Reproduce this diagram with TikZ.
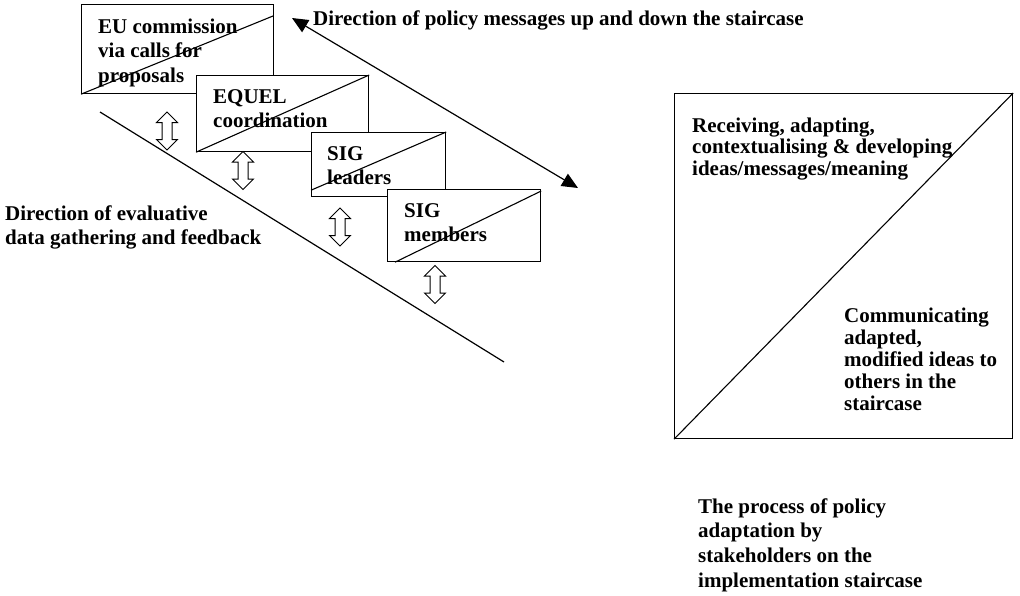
\documentclass[tikz,border=0pt]{standalone}
\usepackage{fontspec}
\setmainfont{Liberation Serif}
\usetikzlibrary{arrows.meta,shapes.arrows}
\newcommand{\mlines}[1]{\begin{tabular}[t]{@{}l@{}}#1\end{tabular}}
\begin{document}
\begin{tikzpicture}[x=1pt,y=-1pt,
  box/.style={draw, fill=white, line width=1.2pt, anchor=north west, inner sep=0pt},
  diag/.style={line width=1.1pt},
  txt/.style={font=\fontsize{21}{24.5}\selectfont\bfseries, anchor=base west, inner sep=0pt},
  txtb/.style={font=\fontsize{21}{21.5}\selectfont\bfseries, anchor=base west, inner sep=0pt},
  dbl/.style={double arrow, draw, fill=white, rotate=90, line width=1pt,
    minimum height=38pt, double arrow head extend=5.5pt, inner sep=4.5pt},
  conn/.style={line width=1.2pt}]
\useasboundingbox (0,0) rectangle (1020,595);
% staircase line
\coordinate (s1) at (100,112);
\coordinate (s2) at (504,362);
\draw[conn] (s1) -- (s2);
% box 1
\node[box, minimum width=192pt, minimum height=89pt] (b1) at (81,4) {};
\draw[diag] (b1.south west) -- (273,16);
\node[txt] (t1) at (98,33) {\mlines{EU commission\\via calls for\\proposals}};
% box 2
\node[box, minimum width=172pt, minimum height=76pt] (b2) at (196,75) {};
\draw[diag] (b2.south west) -- (b2.north east);
\node[txt] (t2) at (213,103) {\mlines{EQUEL\\coordination}};
% box 3
\node[box, minimum width=134pt, minimum height=64pt] (b3) at (311,132) {};
\draw[diag] ([yshift=7pt]b3.south west) -- (b3.north east);
\node[txt] (t3) at (327,160) {\mlines{SIG\\leaders}};
% box 4
\node[box, minimum width=153pt, minimum height=72pt] (b4) at (387,189) {};
\draw[diag] ([xshift=8pt]b4.south west) -- ([yshift=-2pt]b4.north east);
\node[txt] (t4) at (404,217) {\mlines{SIG\\members}};
% double arrows
\node[dbl] (a1) at (167,131) {};
\node[dbl] (a2) at (243,170.5) {};
\node[dbl] (a3) at (340,227) {};
\node[dbl] (a4) at (435,284.5) {};
% policy direction arrow
\coordinate (p1) at (292,18);
\coordinate (p2) at (578,188);
\draw[conn, {Triangle[length=16pt,width=14pt]}-{Triangle[length=16pt,width=14pt]}] (p1) -- (p2);
\node[txt] (tp) at (313,25) {Direction of policy messages up and down the staircase};
% evaluative
\node[txt] (te) at (5,220) {\mlines{Direction of evaluative\\data gathering and feedback}};
% big box
\node[box, minimum width=338pt, minimum height=345pt] (big) at (674,93) {};
\draw[diag] (big.south west) -- (big.north east);
\node[txtb] (r1) at (692,132) {\mlines{Receiving, adapting,\\contextualising \& developing\\ideas/messages/meaning}};
\node[font=\fontsize{21}{22}\selectfont\bfseries, anchor=base west, inner sep=0pt] (r2) at (844,322) {\mlines{Communicating\\adapted,\\modified ideas to\\others in the\\staircase}};
% caption
\node[font=\fontsize{21}{24.7}\selectfont\bfseries, anchor=base west, inner sep=0pt] (cap) at (698,513) {\mlines{The process of policy\\adaptation by\\stakeholders on the\\implementation staircase}};
\end{tikzpicture}
\end{document}
